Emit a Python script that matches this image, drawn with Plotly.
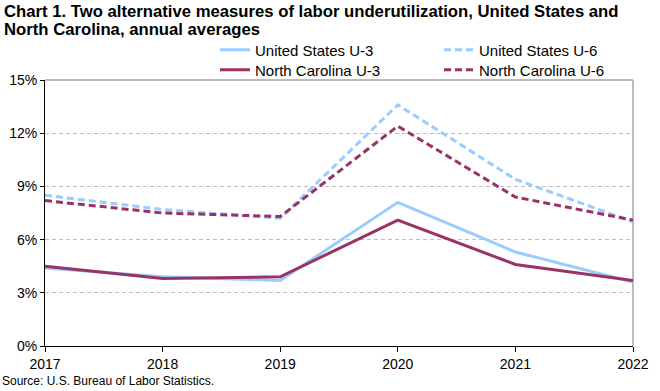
import plotly.graph_objects as go

years = [2017, 2018, 2019, 2020, 2021, 2022]
us_u3 = [4.4, 3.9, 3.7, 8.1, 5.3, 3.6]
us_u6 = [8.5, 7.7, 7.2, 13.6, 9.4, 7.0]
nc_u3 = [4.5, 3.8, 3.9, 7.1, 4.6, 3.7]
nc_u6 = [8.2, 7.5, 7.3, 12.4, 8.4, 7.1]
y_ticks = [0, 3, 6, 9, 12, 15]
y_tick_labels = ["0%", "3%", "6%", "9%", "12%", "15%"]
title_lines = ["Chart 1. Two alternative measures of labor underutilization, United States and",
               "North Carolina, annual averages"]

BLUE = "#99CCFF"
MAROON = "#993366"
DASH = "7px,4px"
FONT = "Liberation Sans, Arial, sans-serif"

fig = go.Figure()
fig.add_trace(go.Scatter(x=years, y=us_u3, mode="lines", name="United States U-3",
                         line=dict(color=BLUE, width=3), legend="legend"))
fig.add_trace(go.Scatter(x=years, y=us_u6, mode="lines", name="United States U-6",
                         line=dict(color=BLUE, width=3, dash=DASH), legend="legend"))
fig.add_trace(go.Scatter(x=years, y=nc_u3, mode="lines", name="North Carolina U-3",
                         line=dict(color=MAROON, width=3), legend="legend2"))
fig.add_trace(go.Scatter(x=years, y=nc_u6, mode="lines", name="North Carolina U-6",
                         line=dict(color=MAROON, width=3, dash=DASH), legend="legend2"))

leg_common = dict(orientation="h", xanchor="left", yanchor="middle", xref="container", yref="container",
                  entrywidth=179, entrywidthmode="pixels", tracegroupgap=0, itemwidth=30,
                  font=dict(family=FONT, size=15, color="#000000"), bgcolor="rgba(0,0,0,0)",
                  traceorder="normal")
fig.update_layout(
    legend=dict(x=215 / 660, y=1 - 50 / 391, **leg_common),
    legend2=dict(x=215 / 660, y=1 - 70 / 391, **leg_common),
)

fig.update_layout(
    width=660, height=391,
    margin=dict(l=45, r=27, t=80, b=45, autoexpand=False),
    paper_bgcolor="white", plot_bgcolor="white",
    font=dict(family=FONT, size=13, color="#000000"),
    showlegend=True,
)
for i, (line, ypix) in enumerate(zip(title_lines, [12, 29])):
    fig.add_annotation(text="<b>" + line + "</b>",
                       xref="paper", yref="paper", x=-43 / 588, y=1 + (80 - ypix) / 266,
                       xanchor="left", yanchor="middle", align="left", showarrow=False,
                       font=dict(family=FONT, size=16.7, color="#000000"))
fig.update_xaxes(range=[2017, 2022], tickmode="array", tickvals=years, ticktext=[str(y) for y in years],
                 showgrid=False, showline=True, linecolor="#000000", linewidth=1,
                 ticks="outside", ticklen=5, tickcolor="#000000", zeroline=False,
                 tickfont=dict(family=FONT, size=14, color="#000000"))
fig.update_yaxes(range=[0, 15], tickmode="array", tickvals=y_ticks, ticktext=y_tick_labels,
                 showgrid=True, gridcolor="#BFBFBF", griddash="4px,3px", gridwidth=1,
                 showline=True, linecolor="#000000", linewidth=1,
                 ticks="outside", ticklen=4, tickcolor="#000000", zeroline=False,
                 tickfont=dict(family=FONT, size=14, color="#000000"))

# top and right plot-area border (gray)
fig.add_shape(type="line", xref="paper", yref="paper", x0=0, x1=1, y0=1, y1=1,
              line=dict(color="#A6A6A6", width=1.5), layer="below")
fig.add_shape(type="line", xref="paper", yref="paper", x0=1, x1=1, y0=0, y1=1,
              line=dict(color="#A6A6A6", width=1.5), layer="below")

fig.add_annotation(text="Source: U.S. Bureau of Labor Statistics.", xref="paper", yref="paper",
                   x=-45 / 588, y=-35 / 266, xanchor="left", yanchor="middle", showarrow=False,
                   font=dict(family=FONT, size=12, color="#000000"))

fig.write_html("out.html", config={"displayModeBar": False},
               post_script="document.body.style.margin='0';document.body.style.padding='0';")
